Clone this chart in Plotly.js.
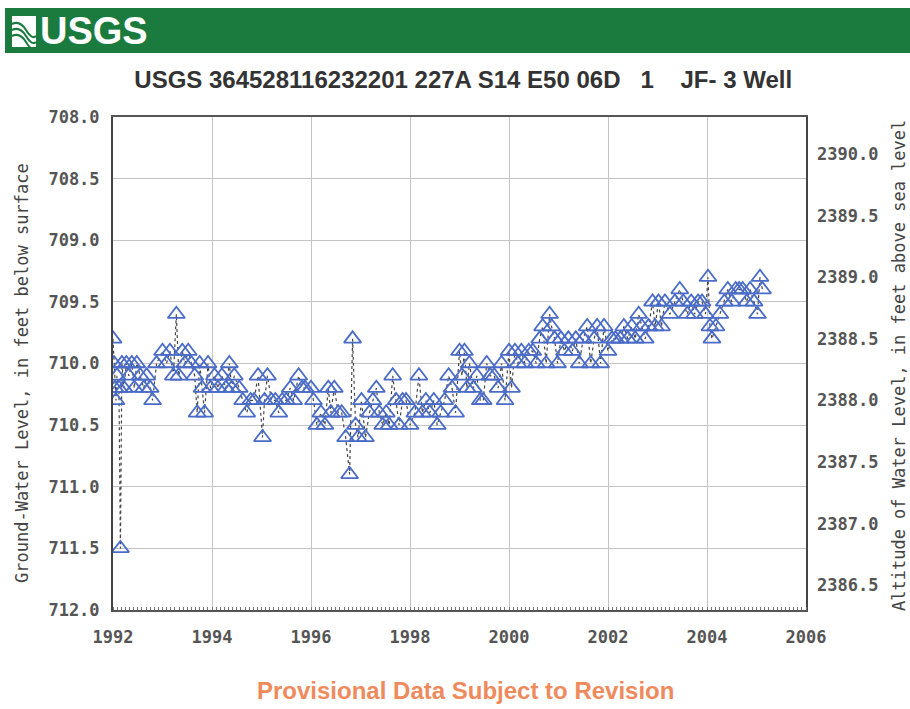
<!DOCTYPE html>
<html>
<head>
<meta charset="utf-8">
<script src="https://cdn.plot.ly/plotly-3.0.1.min.js"></script>
<style>html,body{margin:0;padding:0;background:#fff;}#chart{width:910px;height:709px;}</style>
</head>
<body>
<div id="chart"></div>
<script>
// ---- data ----
const chartTitle = "USGS 364528116232201 227A S14 E50 06D\u00A0\u00A0\u00A01\u00A0\u00A0\u00A0\u00A0JF- 3 Well";
const footerText = "Provisional Data Subject to Revision";
const leftAxisTitle = "Ground-Water Level, in feet below surface";
const rightAxisTitle = "Altitude of Water Level, in feet above sea level";
const landSurfaceAltitude = 3098.3;

const dates = [
 1992.00,1992.02,1992.04,1992.06,1992.08,1992.12,1992.15,1992.18,1992.22,1992.27,
 1992.32,1992.38,1992.43,1992.48,1992.55,1992.62,1992.68,1992.75,1992.80,1992.88,
 1993.00,1993.08,1993.15,1993.22,1993.28,1993.33,1993.40,1993.45,1993.52,1993.58,
 1993.65,1993.70,1993.75,1993.80,1993.85,1993.92,1993.97,1994.05,1994.12,1994.20,
 1994.28,1994.35,1994.40,1994.45,1994.55,1994.62,1994.70,1994.78,1994.85,1994.93,
 1995.02,1995.06,1995.12,1995.20,1995.28,1995.35,1995.42,1995.50,1995.58,1995.65,
 1995.75,1995.82,1995.88,1996.00,1996.05,1996.12,1996.20,1996.28,1996.35,1996.40,
 1996.47,1996.55,1996.62,1996.70,1996.78,1996.84,1996.90,1996.95,1997.02,1997.10,
 1997.18,1997.25,1997.32,1997.38,1997.45,1997.52,1997.58,1997.65,1997.72,1997.78,
 1997.85,1997.92,1998.00,1998.10,1998.18,1998.25,1998.32,1998.40,1998.48,1998.55,
 1998.62,1998.70,1998.78,1998.85,1998.92,1999.00,1999.05,1999.10,1999.15,1999.20,
 1999.28,1999.35,1999.42,1999.48,1999.55,1999.62,1999.70,1999.78,1999.85,1999.92,
 2000.00,2000.05,2000.12,2000.18,2000.25,2000.32,2000.40,2000.48,2000.55,2000.62,
 2000.68,2000.75,2000.82,2000.86,2000.92,2000.98,2001.05,2001.12,2001.20,2001.28,
 2001.35,2001.42,2001.50,2001.58,2001.65,2001.72,2001.78,2001.85,2001.92,2002.00,
 2002.08,2002.15,2002.25,2002.32,2002.40,2002.48,2002.55,2002.62,2002.68,2002.75,
 2002.82,2002.90,2002.95,2003.02,2003.08,2003.15,2003.25,2003.35,2003.45,2003.52,
 2003.60,2003.68,2003.75,2003.82,2003.90,2003.97,2004.02,2004.06,2004.10,2004.18,
 2004.26,2004.35,2004.42,2004.50,2004.58,2004.65,2004.72,2004.80,2004.87,2004.95,
 2005.02,2005.07,2005.12
];
const depthFt = [
 709.8,710.0,710.2,710.3,710.1,710.2,711.5,710.0,710.2,710.0,
 710.1,710.0,710.2,710.0,710.1,710.2,710.1,710.2,710.3,710.0,
 709.9,710.0,709.9,710.1,709.6,710.1,709.9,710.0,709.9,710.0,
 710.1,710.4,710.0,710.2,710.4,710.0,710.2,710.1,710.2,710.1,
 710.2,710.0,710.2,710.1,710.2,710.3,710.4,710.3,710.3,710.1,
 710.6,710.3,710.1,710.3,710.3,710.4,710.3,710.3,710.2,710.3,
 710.1,710.2,710.2,710.2,710.3,710.5,710.4,710.5,710.2,710.4,
 710.2,710.4,710.4,710.6,710.9,709.8,710.5,710.6,710.3,710.6,
 710.4,710.3,710.2,710.4,710.5,710.4,710.5,710.1,710.3,710.5,
 710.3,710.3,710.5,710.4,710.1,710.4,710.3,710.4,710.3,710.5,
 710.4,710.3,710.1,710.2,710.4,709.9,710.1,709.9,710.2,710.0,
 710.2,710.1,710.3,710.3,710.0,710.1,710.1,710.2,710.0,710.3,
 709.9,710.2,709.9,710.0,709.9,710.0,709.9,709.9,710.0,709.8,
 709.7,710.0,709.6,709.7,709.8,710.0,709.8,709.9,709.8,709.9,
 709.8,710.0,709.8,709.7,710.0,709.8,709.7,710.0,709.7,709.9,
 709.8,709.8,709.8,709.7,709.8,709.7,709.8,709.6,709.7,709.8,
 709.7,709.5,709.7,709.5,709.7,709.5,709.6,709.5,709.4,709.5,
 709.6,709.5,709.6,709.5,709.5,709.6,709.3,709.7,709.8,709.7,
 709.6,709.5,709.4,709.5,709.4,709.4,709.4,709.5,709.4,709.5,
 709.6,709.3,709.4
];
const xTickVals = [1992,1994,1996,1998,2000,2002,2004,2006];
const leftTickVals = [708.0,708.5,709.0,709.5,710.0,710.5,711.0,711.5,712.0];
const rightTickVals = [2386.5,2387.0,2387.5,2388.0,2388.5,2389.0,2389.5,2390.0];

// ---- layout helpers (pixel -> paper) ----
const W = 910, H = 709, mL = 113, mR = 104, mT = 117, mB = 99;
const pw = W - mL - mR, ph = H - mT - mB;
const px = x => (x - mL) / pw;
const py = y => (H - mB - y) / ph;

const altitude = depthFt.map(d => +(landSurfaceAltitude - d).toFixed(1));

const traces = [
  {
    x: dates, y: depthFt, type: 'scatter', mode: 'lines+markers',
    line: {color: '#444444', width: 1.2, dash: 'dot'},
    marker: {symbol: 'triangle-up-open', size: 15, color: '#4a6cc8', line: {width: 1.8, color: '#4a6cc8'}},
    hoverinfo: 'x+y', showlegend: false
  },
  {
    x: dates, y: altitude, type: 'scatter', mode: 'markers', yaxis: 'y2',
    marker: {opacity: 0, size: 1}, hoverinfo: 'skip', showlegend: false
  }
];

const tickFont = {family: 'DejaVu Sans Mono, monospace', size: 17, color: '#555555', weight: 'bold'};
const titleFont = {family: 'DejaVu Sans Mono, monospace', size: 17, color: '#444444'};
const sans = 'Liberation Sans, Arial, sans-serif';

const layout = {
  width: W, height: H,
  margin: {l: mL, r: mR, t: mT, b: mB},
  paper_bgcolor: '#ffffff', plot_bgcolor: '#ffffff',
  showlegend: false,
  title: {
    text: chartTitle, xref: 'container', yref: 'container', x: 0.509, y: 1 - 80 / H,
    xanchor: 'center', yanchor: 'middle',
    font: {family: sans, size: 24, color: '#333333', weight: 'bold'}
  },
  xaxis: {
    range: [1992, 2006], tickvals: xTickVals, ticktext: xTickVals.map(String),
    showgrid: true, gridcolor: '#c4c4c4', gridwidth: 1,
    showline: true, linecolor: '#555555', linewidth: 1.5, mirror: true,
    ticks: '', ticklabelstandoff: 11, tickfont: tickFont, zeroline: false,
    minor: {dtick: 1/12, ticks: 'inside', ticklen: 3, tickcolor: '#777777', showgrid: false}
  },
  yaxis: {
    range: [712, 708], tickvals: leftTickVals, tickformat: '.1f',
    showgrid: true, gridcolor: '#c4c4c4', gridwidth: 1,
    showline: true, linecolor: '#444444', linewidth: 2, mirror: true,
    ticks: '', ticklabelstandoff: 8, tickfont: tickFont, zeroline: false
  },
  yaxis2: {
    overlaying: 'y', side: 'right', range: [2386.3, 2390.3], tickvals: rightTickVals, tickformat: '.1f',
    showgrid: false, showline: false, ticks: '', ticklabelstandoff: 10, tickfont: tickFont, zeroline: false
  },
  shapes: [
    {type: 'rect', xref: 'paper', yref: 'paper', x0: px(5), x1: px(912), y0: py(53), y1: py(8),
     fillcolor: '#1b7a3e', line: {width: 0}, layer: 'above'},
    // logo mark
    {type: 'rect', xref: 'paper', yref: 'paper', x0: px(12), x1: px(36), y0: py(47), y1: py(16),
     fillcolor: '#ffffff', line: {width: 0}, layer: 'above'},
    {type: 'path', xref: 'paper', yref: 'paper', layer: 'above',
     path: `M ${px(12)} ${py(24)} Q ${px(20)} ${py(20)} ${px(26)} ${py(30)} T ${px(36)} ${py(36)}`,
     line: {color: '#1b7a3e', width: 2}},
    {type: 'path', xref: 'paper', yref: 'paper', layer: 'above',
     path: `M ${px(12)} ${py(30)} Q ${px(20)} ${py(26)} ${px(26)} ${py(36)} T ${px(36)} ${py(42)}`,
     line: {color: '#1b7a3e', width: 2}},
    {type: 'path', xref: 'paper', yref: 'paper', layer: 'above',
     path: `M ${px(12)} ${py(36)} Q ${px(20)} ${py(32)} ${px(26)} ${py(42)} T ${px(34)} ${py(47)}`,
     line: {color: '#1b7a3e', width: 2}}
  ],
  annotations: [
    {text: 'USGS', xref: 'paper', yref: 'paper', x: px(38), y: py(31), xanchor: 'left', yanchor: 'middle',
     showarrow: false, font: {family: sans, size: 38, color: '#ffffff', weight: 'bold'}},
    {text: leftAxisTitle, xref: 'paper', yref: 'paper', x: px(22), y: py(373), xanchor: 'center', yanchor: 'middle',
     textangle: -90, showarrow: false, font: titleFont},
    {text: rightAxisTitle, xref: 'paper', yref: 'paper', x: px(899), y: py(366), xanchor: 'center', yanchor: 'middle',
     textangle: -90, showarrow: false, font: {family: 'DejaVu Sans Mono, monospace', size: 17, color: '#444444'}},
    {text: footerText, xref: 'paper', yref: 'paper', x: px(465), y: py(690), xanchor: 'center', yanchor: 'middle',
     showarrow: false, font: {family: sans, size: 24, color: '#ef8a5c', weight: 'bold'}}
  ]
};

Plotly.newPlot('chart', traces, layout, {displayModeBar: false, responsive: false});
</script>
</body>
</html>
